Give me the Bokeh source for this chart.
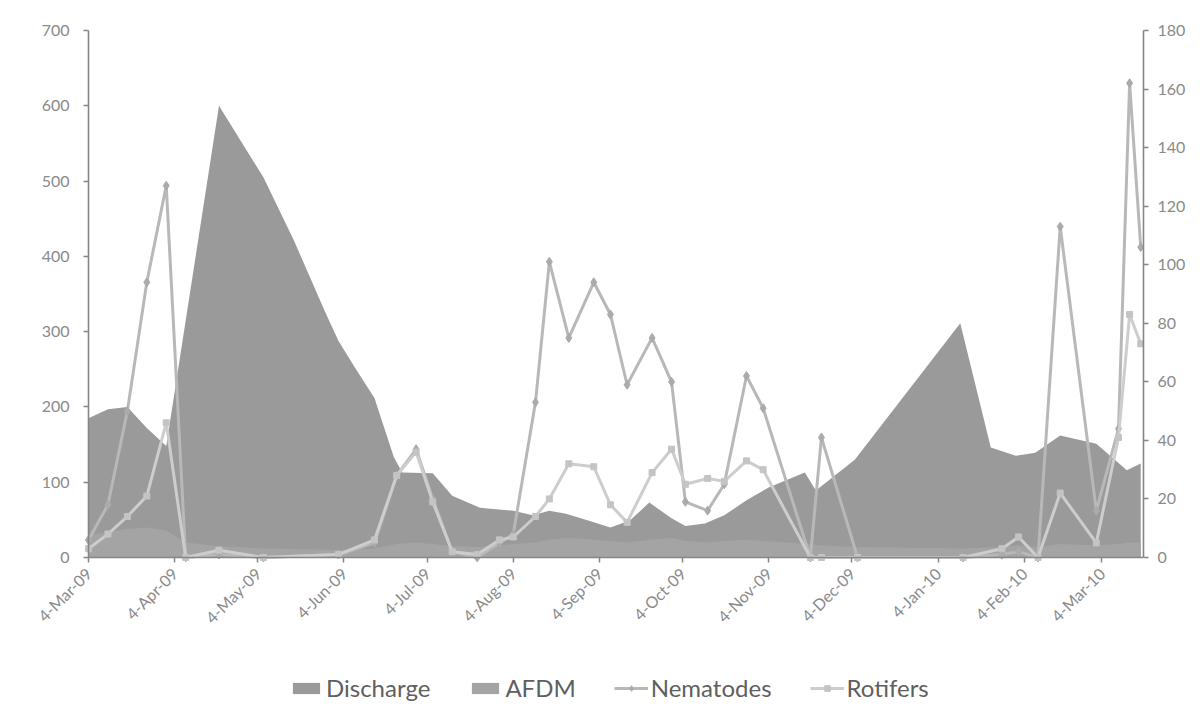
import pandas as pd
from bokeh.plotting import figure
from bokeh.models import (Range1d, LinearAxis, FixedTicker, Legend, LegendItem,
                          ColumnDataSource, DatetimeTickFormatter)
from bokeh.embed import file_html
from bokeh.resources import INLINE
from math import pi

# ---------------- data ----------------
discharge_dates = ["2009-03-04", "2009-03-11", "2009-03-18", "2009-03-25", "2009-04-01",
                   "2009-04-20", "2009-05-06", "2009-05-17", "2009-05-28", "2009-06-02",
                   "2009-06-08", "2009-06-15", "2009-06-18", "2009-06-22", "2009-06-25",
                   "2009-07-06", "2009-07-13", "2009-07-23", "2009-08-04", "2009-08-11",
                   "2009-08-17", "2009-08-23", "2009-08-31", "2009-09-08", "2009-09-15",
                   "2009-09-22", "2009-09-30", "2009-10-05", "2009-10-12", "2009-10-19",
                   "2009-10-27", "2009-11-04", "2009-11-17", "2009-11-21", "2009-12-05",
                   "2010-01-12", "2010-01-23", "2010-02-01", "2010-02-08", "2010-02-17",
                   "2010-03-02", "2010-03-13", "2010-03-18"]
discharge = [185, 197, 200, 172, 148,
             600, 505, 421, 328, 288,
             252, 212, 178, 133, 113,
             112, 82, 66, 62, 56,
             62, 58, 49, 40, 49,
             73, 52, 42, 45, 56,
             76, 93, 113, 89, 130,
             311, 146, 135, 139, 162,
             151, 116, 125]

sample_dates = ["2009-03-04", "2009-03-11", "2009-03-18", "2009-03-25", "2009-04-01",
                "2009-04-08", "2009-04-20", "2009-05-06", "2009-06-02", "2009-06-15",
                "2009-06-23", "2009-06-30", "2009-07-06", "2009-07-13", "2009-07-22",
                "2009-07-30", "2009-08-04", "2009-08-12", "2009-08-17", "2009-08-24",
                "2009-09-02", "2009-09-08", "2009-09-14", "2009-09-23", "2009-09-30",
                "2009-10-05", "2009-10-13", "2009-10-19", "2009-10-27", "2009-11-02",
                "2009-11-19", "2009-11-23", "2009-12-06", "2010-01-13", "2010-01-27",
                "2010-02-02", "2010-02-09", "2010-02-17", "2010-03-02", "2010-03-10",
                "2010-03-14", "2010-03-18"]
nematodes = [6, 18, 50, 94, 127,
             0, 1, 0, 1, 5,
             28, 37, 20, 2, 0,
             5, 8, 53, 101, 75,
             94, 83, 59, 75, 60,
             19, 16, 25, 62, 51,
             0, 41, 0, 0, 1,
             2, 0, 113, 16, 44,
             162, 106]
rotifers = [3, 8, 14, 21, 46,
            0, 2.5, 0, 1, 6,
            28, 36, 19, 2, 1,
            6, 7, 14, 20, 32,
            31, 18, 12, 29, 37,
            25, 27, 26, 33, 30,
            0, 0, 0, 0, 3,
            7, 0, 22, 5, 41,
            83, 73]
afdm = [30, 34, 38, 40, 36,
        20, 15, 12, 10, 12,
        18, 20, 18, 15, 14,
        16, 18, 20, 24, 26,
        24, 22, 20, 24, 26,
        22, 20, 22, 24, 22,
        18, 16, 14, 12, 14,
        16, 14, 18, 16, 18,
        20, 20]

tick_dates = ["2009-03-04", "2009-04-04", "2009-05-04", "2009-06-04", "2009-07-04",
              "2009-08-04", "2009-09-04", "2009-10-04", "2009-11-04", "2009-12-04",
              "2010-01-04", "2010-02-04", "2010-03-04"]
tick_labels = ["4-Mar-09", "4-Apr-09", "4-May-09", "4-Jun-09", "4-Jul-09",
               "4-Aug-09", "4-Sep-09", "4-Oct-09", "4-Nov-09", "4-Dec-09",
               "4-Jan-10", "4-Feb-10", "4-Mar-10"]
left_ticks = [0, 100, 200, 300, 400, 500, 600, 700]
right_ticks = [0, 20, 40, 60, 80, 100, 120, 140, 160, 180]

# ---------------- figure ----------------
FONT = "Lato"
TICK_COLOR = "#8a8a8a"
AXIS_COLOR = "#868686"

x_start = pd.Timestamp("2009-03-04")
x_end = pd.Timestamp("2010-03-19")

# plot area: x 88..1143 px, y 30..557 px.  The frame is extended to the left
# (value labels), upward (top label) and downward (date labels and legend).
FRAME_L = 20
AX_L = 88
AX_R = 1143
FRAME_T = 10
AX_T = 30
PLOT_H = 527
BELOW = 148
ABOVE = AX_T - FRAME_T
FRAME_H = PLOT_H + BELOW + ABOVE
span = x_end - x_start
x_lo = x_start - span * (AX_L - FRAME_L) / (AX_R - AX_L)
left_min = -BELOW * 700 / PLOT_H
left_max = 700 + ABOVE * 700 / PLOT_H
right_min = -BELOW * 180 / PLOT_H
right_max = 180 + ABOVE * 180 / PLOT_H

p = figure(frame_width=AX_R - FRAME_L, frame_height=FRAME_H, x_axis_type="datetime",
           x_range=Range1d(x_lo, x_end), y_range=Range1d(left_min, left_max),
           output_backend="svg", toolbar_location=None,
           min_border_left=FRAME_L, min_border_right=44, min_border_top=FRAME_T,
           min_border_bottom=0)
p.extra_y_ranges = {"right": Range1d(right_min, right_max)}
p.grid.visible = False
p.outline_line_color = None
p.background_fill_color = "white"
p.border_fill_color = "white"

dsrc = ColumnDataSource(dict(date=pd.to_datetime(discharge_dates), v=discharge))
ssrc = ColumnDataSource(dict(date=pd.to_datetime(sample_dates), nem=nematodes,
                             rot=rotifers, afdm=afdm))

r_dis = p.varea(x="date", y1=0, y2="v", source=dsrc, fill_color="#9a9a9a")
r_afdm = p.varea(x="date", y1=0, y2="afdm", source=ssrc, fill_color="#a4a4a4")

r_nem_l = p.line(x="date", y="nem", source=ssrc, y_range_name="right",
                 line_color="#b8b8b8", line_width=3)
r_nem_m = p.scatter(x="date", y="nem", source=ssrc, y_range_name="right",
                    marker="diamond", size=9, fill_color="#ababab",
                    line_color="#ababab")
r_rot_l = p.line(x="date", y="rot", source=ssrc, y_range_name="right",
                 line_color="#cdcdcd", line_width=3)
r_rot_m = p.scatter(x="date", y="rot", source=ssrc, y_range_name="right",
                    marker="square", size=6, fill_color="#c4c4c4",
                    line_color="#c4c4c4")

# axes
start_ms = float(x_start.value // 10**6)
end_ms = float(x_end.value // 10**6)
tick_ms = [float(t.value // 10**6) for t in pd.to_datetime(tick_dates)]
xa = p.xaxis[0]
xa.ticker = FixedTicker(ticks=tick_ms)
xa.formatter = DatetimeTickFormatter(days="%-d-%b-%y", months="%-d-%b-%y",
                                     years="%-d-%b-%y")
xa.major_label_overrides = {t: lab for t, lab in zip(tick_ms, tick_labels)}
xa.major_label_orientation = pi / 4
xa.fixed_location = 0
xa.bounds = (start_ms, end_ms)

ya = p.yaxis[0]
ya.ticker = FixedTicker(ticks=left_ticks)
ya.bounds = (0, 700)
ya.fixed_location = start_ms

yr = LinearAxis(y_range_name="right", ticker=FixedTicker(ticks=right_ticks),
                bounds=(0, 180))
p.add_layout(yr, "right")

for ax in (xa, ya, yr):
    ax.axis_line_color = AXIS_COLOR
    ax.axis_line_width = 1.6
    ax.major_tick_line_color = AXIS_COLOR
    ax.major_tick_line_width = 1.5
    ax.major_tick_out = 5
    ax.major_tick_in = 0
    ax.minor_tick_line_color = None
    ax.major_label_text_font = FONT
    ax.major_label_text_font_size = "16px"
    ax.major_label_text_color = TICK_COLOR
ya.major_label_standoff = 14
yr.major_label_standoff = 9
xa.major_label_standoff = 8

legend = Legend(items=[
    LegendItem(label="Discharge", renderers=[r_dis]),
    LegendItem(label="AFDM", renderers=[r_afdm]),
    LegendItem(label="Nematodes", renderers=[r_nem_l, r_nem_m]),
    LegendItem(label="Rotifers", renderers=[r_rot_l, r_rot_m]),
], orientation="horizontal", location=(AX_L - FRAME_L + 201, ABOVE * 0 + 3),
    label_text_font=FONT, label_text_font_size="24px",
    label_text_color="#5f5f5f", glyph_width=34, glyph_height=14,
    label_standoff=3, spacing=38, padding=0, margin=0,
    border_line_alpha=0, background_fill_alpha=0)
p.add_layout(legend, "center")

open("out.html", "w").write(file_html(p, INLINE))
